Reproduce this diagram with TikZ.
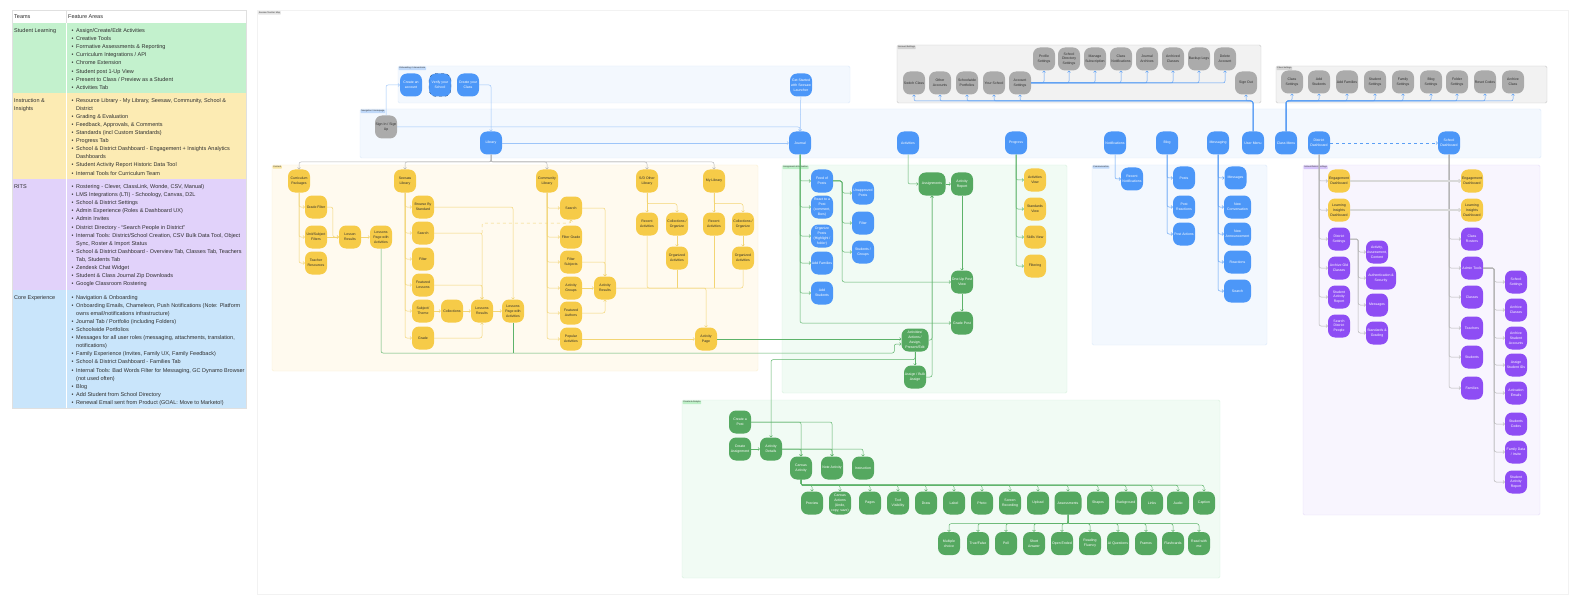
\documentclass[tikz,border=0pt]{standalone}
\usepackage{fontspec}
\setmainfont{Liberation Sans}
\usetikzlibrary{arrows.meta,calc}

\definecolor{nblue}{HTML}{4C97F8}
\definecolor{ngreen}{HTML}{55A860}
\definecolor{nyellow}{HTML}{F6CB48}
\definecolor{npurple}{HTML}{8E4DF4}
\definecolor{ngray}{HTML}{ABABAB}
\definecolor{txt}{HTML}{2E2E2E}
\definecolor{lblue}{HTML}{5B9FF5}
\definecolor{lgreen}{HTML}{5DB36A}
\definecolor{lyellow}{HTML}{F3D574}
\definecolor{lgray}{HTML}{B5B5B5}
\definecolor{rowgreen}{HTML}{C3F1CD}
\definecolor{rowyellow}{HTML}{FCEBB3}
\definecolor{rowpurple}{HTML}{E1D2FA}
\definecolor{rowblue}{HTML}{C9E5FB}
\definecolor{fblue}{HTML}{F3F8FE}
\definecolor{fblueb}{HTML}{DCE9FA}
\definecolor{fgray}{HTML}{F2F2F2}
\definecolor{fgrayb}{HTML}{C8C8C8}
\definecolor{fyellow}{HTML}{FFFAEF}
\definecolor{fyellowb}{HTML}{FBF0D2}
\definecolor{fgreen}{HTML}{F1FBF4}
\definecolor{fgreenb}{HTML}{D7F1DE}
\definecolor{fpurple}{HTML}{F8F5FE}
\definecolor{fpurpleb}{HTML}{E6DDF8}
\definecolor{labblue}{HTML}{BFD8F8}
\definecolor{labgray}{HTML}{D2D2D2}
\definecolor{labyellow}{HTML}{F6E3A0}
\definecolor{labgreen}{HTML}{BCEFC6}
\definecolor{labpurple}{HTML}{D6C4FA}

\newcommand{\tbul}{\makebox[4.5pt][l]{\textbullet}}
\newcommand{\tind}{\hspace*{4.5pt}}

\tikzset{
  card/.style={rounded corners=7pt, minimum width=22pt, minimum height=23pt, inner sep=0.5pt, align=center, font=\fontsize{3.5}{4.9}\selectfont},
  bnode/.style={card, fill=nblue, text=white},
  gnode/.style={card, fill=ngreen, text=white},
  ynode/.style={card, fill=nyellow, text=txt},
  pnode/.style={card, fill=npurple, text=white},
  anode/.style={card, fill=ngray, text=txt},
  wide/.style={minimum width=27pt},
  conn/.style={line width=0.5pt, rounded corners=2pt, -{Straight Barb[length=1.4pt,width=2.8pt]}},
  bline/.style={conn, draw=lblue},
  gline/.style={conn, draw=lgreen},
  yline/.style={conn, draw=lyellow},
  grline/.style={conn, draw=lgray},
  area/.style={line width=0.4pt, rounded corners=1.5pt},
  flabel/.style={anchor=north west, inner sep=0.7pt, rounded corners=0.5pt, font=\fontsize{2.2}{2.5}\selectfont, text=black!80},
  tabtext/.style={anchor=north west, inner sep=0pt, align=left, text=txt, font=\fontsize{5.5}{8.1}\selectfont},
}

\begin{document}
\begin{tikzpicture}[x=1pt,y=-1pt]
\useasboundingbox (0,0) rectangle (1570,596);

% table
\fill[white] (12,10) rectangle (246,23.3);
\fill[rowgreen] (12,23.3) rectangle (246,92.7);
\fill[rowyellow] (12,92.7) rectangle (246,179.3);
\fill[rowpurple] (12,179.3) rectangle (246,289.7);
\fill[rowblue] (12,289.7) rectangle (246,408);
\draw[white, line width=0.6pt] (66,23.3) -- (66,408);
\draw[black!12, line width=0.4pt] (12,10) rectangle (246,408);
\draw[black!12, line width=0.4pt] (66,10) -- (66,23.3);

\node[tabtext] (thteam) at (14,12.7) {\strut Teams};
\node[tabtext] (tharea) at (68,12.7) {\strut Feature Areas};

\node[tabtext] (tsl) at (14,26.7) {\strut Student Learning};
\node[tabtext] (fsl) at (71.5,26.7) {\strut\tbul Assign/Create/Edit Activities\\
\tbul Creative Tools\\
\tbul Formative Assessments \& Reporting\\
\tbul Curriculum Integrations / API\\
\tbul Chrome Extension\\
\tbul Student post 1-Up View\\
\tbul Present to Class / Preview as a Student\\
\tbul Activities Tab};

\node[tabtext] (tii) at (14,96.3) {\strut Instruction \&\\Insights};
\node[tabtext] (fii) at (71.5,96.3) {\strut\tbul Resource Library - My Library, Seesaw, Community, School \&\\
\tind District\\
\tbul Grading \& Evaluation\\
\tbul Feedback, Approvals, \& Comments\\
\tbul Standards (incl Custom Standards)\\
\tbul Progress Tab\\
\tbul School \& District Dashboard - Engagement + Insights Analytics\\
\tind Dashboards\\
\tbul Student Activity Report Historic Data Tool\\
\tbul Internal Tools for Curriculum Team};

\node[tabtext] (trits) at (14,182.7) {\strut RITS};
\node[tabtext] (frits) at (71.5,182.7) {\strut\tbul Rostering - Clever, ClassLink, Wonde, CSV, Manual)\\
\tbul LMS Integrations (LTI) - Schoology, Canvas, D2L\\
\tbul School \& District Settings\\
\tbul Admin Experience (Roles \& Dashboard UX)\\
\tbul Admin Invites\\
\tbul District Directory - ``Search People in District''\\
\tbul Internal Tools: District/School Creation, CSV Bulk Data Tool, Object\\
\tind Sync, Roster \& Import Status\\
\tbul School \& District Dashboard - Overview Tab, Classes Tab, Teachers\\
\tind Tab, Students Tab\\
\tbul Zendesk Chat Widget\\
\tbul Student \& Class Journal Zip Downloads\\
\tbul Google Classroom Rostering};

\node[tabtext] (tcore) at (14,293.3) {\strut Core Experience};
\node[tabtext] (fcore) at (71.5,293.3) {\strut\tbul Navigation \& Onboarding\\
\tbul Onboarding Emails, Chameleon, Push Notifications (Note: Platform\\
\tind owns email/notifications infrastructure)\\
\tbul Journal Tab / Portfolio (including Folders)\\
\tbul Schoolwide Portfolios\\
\tbul Messages for all user roles (messaging, attachments, translation,\\
\tind notifications)\\
\tbul Family Experience (Invites, Family UX, Family Feedback)\\
\tbul School \& District Dashboard - Families Tab\\
\tbul Internal Tools: Bad Words Filter for Messaging, GC Dynamo Browser\\
\tind (not used often)\\
\tbul Blog\\
\tbul Add Student from School Directory\\
\tbul Renewal Email sent from Product (GOAL: Move to Marketo!)};

% frames
\draw[draw=black!5, line width=0.4pt] (257,10) rectangle (1568,594);
\node[flabel, fill=black!10] (lmap) at (258,11) {Seesaw Teacher Map};
\draw[area, fill=fblue, draw=fblueb] (398,66) rectangle (850,103);
\node[flabel, fill=labblue] (lonb) at (398.5,66.5) {Onboarding / Interventions};
\draw[area, fill=fblue, draw=fblueb] (360,109) rectangle (1541,158);
\node[flabel, fill=labblue] (lnav) at (360.5,109.5) {Navigation / Homepage};
\draw[area, fill=fgray, draw=fgrayb] (897,45) rectangle (1261,103);
\node[flabel, fill=labgray] (lacc) at (897.5,45.5) {Account Settings};
\draw[area, fill=fgray, draw=fgrayb] (1276,66) rectangle (1547,103);
\node[flabel, fill=labgray] (lcls) at (1276.5,66.5) {Class Settings};
\draw[area, fill=fyellow, draw=fyellowb] (272,165) rectangle (758,371);
\node[flabel, fill=labyellow] (lcont) at (272.5,165.5) {Content};
\draw[area, fill=fgreen, draw=fgreenb] (782,165) rectangle (1067,393);
\node[flabel, fill=labgreen] (lasg) at (782.5,165.5) {Assignment \& Evaluation};
\draw[area, fill=fblue, draw=fblueb] (1092,165) rectangle (1267,345);
\node[flabel, fill=labblue] (lcom) at (1092.5,165.5) {Communication};
\draw[area, fill=fpurple, draw=fpurpleb] (1303,165) rectangle (1540,515);
\node[flabel, fill=labpurple] (lsds) at (1303.5,165.5) {School/District Settings};
\draw[area, fill=fgreen, draw=fgreenb] (682,400) rectangle (1220,578);
\node[flabel, fill=labgreen] (lcra) at (682.5,400.5) {Create \& Analyze};

% navigation
\node[anode] (signin) at (386,127) {Sign In / Sign\\Up};
\node[bnode] (library) at (491,143) {Library};
\node[bnode] (journal) at (800,143) {Journal};
\node[bnode] (activities) at (908,143) {Activities};
\node[bnode] (progress) at (1016,143) {Progress};
\node[bnode] (notif) at (1115,143) {Notifications};
\node[bnode] (blog) at (1167,143) {Blog};
\node[bnode] (messaging) at (1218,143) {Messaging};
\node[bnode] (usermenu) at (1253,143) {User Menu};
\node[bnode] (classmenu) at (1286,143) {Class Menu};
\node[bnode] (distdash) at (1319,143) {District\\Dashboard};
\node[bnode] (schooldash) at (1449,143) {School\\Dashboard};

% onboarding
\node[bnode] (newacc) at (411,85) {Create an\\account};
\node[bnode, draw=nblue!55!black, dashed, line width=0.3pt] (verify) at (440,85) {Verify your\\School};
\node[bnode] (newclass) at (468,85) {Create your\\Class};
\node[bnode] (launcher) at (801,85) {Get Started\\with Seesaw\\Launcher};

% account settings
\foreach \x/\n/\t in {914/switchcls/{Switch Class}, 940/othacc/{Other\\Accounts}, 967/portf/{Schoolwide\\Portfolios},
  994/yschool/{Your School}, 1020/accset/{Account\\Settings}, 1246/signout/{Sign Out}}
  \node[anode] (\n) at (\x,83) {\t};
\foreach \x/\n/\t in {1044/profile/{Profile\\Settings}, 1069/dirset/{School\\Directory\\Settings}, 1095/subscr/{Manage\\Subscription},
  1121/clsnotif/{Class\\Notifications}, 1147/jarch/{Journal\\Archives}, 1173/archcls/{Archived\\Classes},
  1199/backup/{Backup Logs}, 1225/delacc/{Delete\\Account}}
  \node[anode] (\n) at (\x,59) {\t};

% class settings
\foreach \x/\n/\t in {1292/clsset/{Class\\Settings}, 1319/addstu/{Add\\Students}, 1347/addfam/{Add Families},
  1375/stuset/{Student\\Settings}, 1403/famset/{Family\\Settings}, 1431/blogset/{Blog\\Settings},
  1457/foldset/{Folder\\Settings}, 1485/resetc/{Reset Codes}, 1513/archive/{Archive\\Class}}
  \node[anode] (\n) at (\x,82) {\t};

% content
\node[ynode] (curric) at (299,181) {Curriculum\\Packages};
\node[ynode] (sslib) at (405,181) {Seesaw\\Library};
\node[ynode] (commlib) at (547,181) {Community\\Library};
\node[ynode] (sdlib) at (647,181) {S/D Other\\Library};
\node[ynode] (mylib) at (714,181) {My Library};
\node[ynode] (gradefil) at (316,207) {Grade Filter};
\node[ynode] (unitfil) at (316,237) {Unit/Subject\\Filters};
\node[ynode] (teachres) at (316,263) {Teacher\\Resources};
\node[ynode] (lessres) at (350,237) {Lesson\\Results};
\node[ynode] (lesspage) at (381,237) {Lessons\\Page with\\Activities};
\node[ynode] (browse) at (423,207) {Browse By\\Standard};
\node[ynode] (ssearch) at (423,233) {Search};
\node[ynode] (sfilter) at (423,259) {Filter};
\node[ynode] (featless) at (423,285) {Featured\\Lessons};
\node[ynode] (subject) at (423,311) {Subject/\\Theme};
\node[ynode] (sgrade) at (423,338) {Grade};
\node[ynode] (collect) at (452,311) {Collections};
\node[ynode] (lessresb) at (482,311) {Lessons\\Results};
\node[ynode] (lesspageb) at (513,311) {Lessons\\Page with\\Activities};
\node[ynode] (csearch) at (571,208) {Search};
\node[ynode] (fgrade) at (571,237) {Filter Grade};
\node[ynode] (fsubj) at (571,262) {Filter\\Subjects};
\node[ynode] (agroups) at (571,288) {Activity\\Groups};
\node[ynode] (fauth) at (571,313) {Featured\\Authors};
\node[ynode] (popular) at (571,339) {Popular\\Activities};
\node[ynode] (actres) at (605,288) {Activity\\Results};
\node[ynode] (actpage) at (706,339) {Activity\\Page};
\node[ynode] (sdrecent) at (647,224) {Recent\\Activities};
\node[ynode] (sdcoll) at (677,224) {Collections /\\Organize};
\node[ynode] (sdorg) at (677,258) {Organized\\Activities};
\node[ynode] (myrecent) at (714,224) {Recent\\Activities};
\node[ynode] (mycoll) at (743,224) {Collections /\\Organize};
\node[ynode] (myorg) at (743,258) {Organized\\Activities};

% assignment and evaluation
\node[bnode] (feed) at (822,181) {Feed of\\Posts};
\node[bnode] (react) at (822,207) {React to a\\Post\\(comment,\\likes)};
\node[bnode] (organize) at (822,236) {Organize\\Posts\\(Highlight /\\folder)};
\node[bnode] (jaddfam) at (822,263) {Add Families};
\node[bnode] (jaddstu) at (822,293) {Add\\Students};
\node[bnode] (unappr) at (863,193) {Unapproved\\Posts};
\node[bnode] (afilter) at (863,223) {Filter};
\node[bnode] (stugroups) at (863,252) {Students /\\Groups};
\node[gnode, wide] (assign) at (932,184) {Assignments};
\node[gnode] (actreport) at (962,184) {Activity\\Report};
\node[gnode] (oneup) at (962,282) {One-Up Post\\View};
\node[gnode] (gradepost) at (962,323) {Grade Post};
\node[gnode, wide] (actions) at (915,340) {Activities/\\Actions /\\Assign,\\Present/Edit};
\node[gnode] (bulk) at (915,377) {Assign / Bulk\\Assign};
\node[ynode] (actview) at (1035,180) {Activities\\View};
\node[ynode] (stdview) at (1035,209) {Standards\\View};
\node[ynode] (skills) at (1035,237) {Skills View};
\node[ynode] (filtering) at (1035,266) {Filtering};

% communication
\node[bnode] (recnotif) at (1132,179) {Recent\\Notifications};
\node[bnode] (posts) at (1184,178) {Posts};
\node[bnode] (postreact) at (1184,207) {Post\\Reactions};
\node[bnode] (postact) at (1184,234) {Post Actions};
\node[bnode] (messages) at (1235.5,178) {Messages};
\node[bnode, wide] (newconv) at (1237.5,207) {New\\Conversation};
\node[bnode, wide] (newann) at (1237.5,234) {New\\Announcement};
\node[bnode, wide] (reactions) at (1237.5,262) {Reactions};
\node[bnode, wide] (msearch) at (1237.5,291) {Search};

% school / district
\node[ynode] (engd) at (1339,181) {Engagement\\Dashboard};
\node[ynode] (learnd) at (1339,210) {Learning\\Insights\\Dashboard};
\node[pnode] (dsettings) at (1339,239) {District\\Settings};
\node[pnode] (archold) at (1339,268) {Archive Old\\Classes};
\node[pnode] (dreport) at (1339,297) {Student\\Activity\\Report};
\node[pnode] (dpeople) at (1339,326) {Search\\District\\People};
\node[pnode] (actassess) at (1377,252) {Activity,\\Assessment,\\Content};
\node[pnode, minimum width=30pt] (auth) at (1381,278) {Authentication \&\\Security};
\node[pnode] (dmessages) at (1377,305) {Messages};
\node[pnode] (stdgrad) at (1377,333) {Standards \&\\Grading};
\node[ynode] (enges) at (1472,181) {Engagement\\Dashboard};
\node[ynode] (learns) at (1472,210) {Learning\\Insights\\Dashboard};
\node[pnode] (rosters) at (1472,239) {Class\\Rosters};
\node[pnode] (admin) at (1472,268) {Admin Tools};
\node[pnode] (classes) at (1472,297) {Classes};
\node[pnode] (teachers) at (1472,328) {Teachers};
\node[pnode] (students) at (1472,357) {Students};
\node[pnode] (families) at (1472,388) {Families};
\foreach \y/\n/\t in {282/schset/{School\\Settings}, 310/archcls2/{Archive\\Classes}, 338/archstu/{Archive\\Student\\Accounts},
  365/assignid/{Assign\\Student IDs}, 393/activation/{Activation\\Emails}, 424/stucodes/{Students\\Codes},
  452/famdata/{Family Data\\/ Invite}, 482/sreport/{Student\\Activity\\Report}}
  \node[pnode] (\n) at (1516,\y) {\t};

% create and analyze
\node[gnode] (newpost) at (740,422) {Create a\\Post};
\node[gnode] (newasg) at (740,449) {Create\\Assignment};
\node[gnode] (actdet) at (771,449) {Activity\\Details};
\node[gnode] (canvas) at (801,468) {Canvas\\Activity};
\node[gnode] (noteact) at (832,468) {Note Activity};
\node[gnode] (instr) at (863,468) {Instruction};
\foreach \x/\n/\t in {812/preview/{Preview}, 840/cactions/{Canvas\\Actions\\(Undo,\\copy, save)}, 870/pages/{Pages},
  898/toolvis/{Tool\\Visibility}, 926/cdraw/{Draw}, 954/clabel/{Label}, 982/photo/{Photo},
  1010/screen/{Screen\\Recording}, 1038/upload/{Upload}, 1098/shapes/{Shapes}, 1126/bground/{Background},
  1152/links/{Links}, 1178/audio/{Audio}, 1204/caption/{Caption}}
  \node[gnode] (\n) at (\x,503) {\t};
\node[gnode, wide] (assess) at (1068,503) {Assessments};
\foreach \x/\n/\t in {949/mchoice/{Multiple\\choice}, 978/tfalse/{True/False}, 1006/poll/{Poll}, 1034/short/{Short\\Answer},
  1062/openend/{Open Ended}, 1090/fluency/{Reading\\Fluency}, 1118/aiq/{AI Questions}, 1146/frames/{Frames},
  1173/flash/{Flashcards}, 1199/readme/{Read with\\me}}
  \node[gnode] (\n) at (\x,543.5) {\t};

% connectors: onboarding and navigation
\draw[bline, draw=lblue!60] (signin.north) |- (newacc.west);
\draw[bline, draw=lblue!60] (newclass.east) -| (library.north);
\draw[bline, draw=lblue!60] (signin.east) -| (journal.north);
\draw[bline, draw=lblue!60] (launcher) -- (journal);
\draw[bline, draw=lblue!60] (library) -- (journal);
\draw[bline, dashed] (distdash) -- (schooldash);

% connectors: menus
\coordinate (umbus) at (usermenu.north |- 0,101);
\foreach \n in {switchcls,othacc,portf,yschool,accset,signout}
  \draw[bline] (usermenu.north) -- (umbus) -| (\n.south);
\foreach \n in {profile,dirset,subscr,clsnotif,jarch,archcls,backup,delacc}
  \draw[bline] (accset.east) -| (\n.south);
\coordinate (cmbus) at (classmenu.north |- 0,101);
\foreach \n in {clsset,addstu,addfam,stuset,famset,blogset,foldset,resetc,archive}
  \draw[bline] (classmenu.north) -- (cmbus) -| (\n.south);

% connectors: content
\coordinate (libbus) at (library.south |- 0,162);
\foreach \n in {curric,sslib,commlib,sdlib,mylib}
  \draw[grline] (library.south) -- (libbus) -| (\n.north);
\foreach \n in {gradefil,unitfil,teachres}
  \draw[yline] (curric.south) |- (\n.west);
\draw[yline] (gradefil.east) -| ([xshift=-6pt]lessres.west) -- (lessres.west);
\draw[yline] (unitfil) -- (lessres);
\draw[yline] (lessres) -- (lesspage);
\foreach \n in {browse,ssearch,sfilter,featless,subject,sgrade}
  \draw[yline] (sslib.south) |- (\n.west);
\draw[yline] (browse.east) -| (lesspageb.north);
\draw[yline] (ssearch.east) -| (lessresb.north);
\draw[yline] (featless.east) -| (lessresb.north);
\draw[yline] (sgrade.east) -| (lessresb.south);
\draw[yline] (subject) -- (collect);
\draw[yline] (collect) -- (lessresb);
\draw[yline] (lessresb) -- (lesspageb);
\draw[yline, dashed] (lessresb.north |- ssearch.east) -- ++(0,-10) -| (csearch.south);
\foreach \n in {csearch,fgrade,fsubj,agroups,fauth,popular}
  \draw[yline] (commlib.south) |- (\n.west);
\draw[yline] (csearch.east) -| (actres.north);
\draw[yline] (fsubj.east) -| (actres.north);
\draw[yline] (agroups) -- (actres);
\draw[yline] (fauth.east) -| (actres.south);
\draw[yline] (actres.east) -| (actpage.north);
\draw[yline] (popular) -- (actpage);
\draw[yline] (sdlib) -- (sdrecent);
\draw[yline] (sdlib.south) -- ++(0,11) -| (sdcoll.north);
\draw[yline] (sdcoll) -- (sdorg);
\draw[yline] (mylib) -- (myrecent);
\draw[yline] (mylib.south) -- ++(0,11) -| (mycoll.north);
\draw[yline] (mycoll) -- (myorg);
\draw[yline, -] (sdrecent.south) |- (myorg.south |- actres.east) -- (myorg.south);
\draw[yline, -] (sdorg.south) -- (sdorg.south |- actres.east);
\draw[yline, -] (myrecent.south) -- (myrecent.south |- actres.east);

% connectors: content to assignment
\draw[gline] (actpage.east) -- (actpage.east -| actions.west);
\draw[gline] (lesspage.south) |- ([xshift=-7pt,yshift=-13pt]actions.west) |- ([yshift=-4pt]actions.west);
\draw[gline, -] (lesspageb.south) -- (lesspageb.south |- 0,353);

% connectors: assignment and evaluation
\foreach \n in {feed,react,organize,jaddfam,jaddstu,gradepost}
  \draw[gline] (journal.south) |- (\n.west);
\coordinate (feedx) at ([xshift=9pt]feed.east);
\foreach \n in {unappr,afilter,stugroups,oneup}
  \draw[gline] (feed.east) -- (feedx) |- (\n.west);
\draw[gline] (activities.south) |- (assign.west);
\draw[gline] (assign) -- (actreport);
\draw[gline] (actreport) -- (oneup);
\draw[gline] (oneup) -- (gradepost);
\draw[gline] (actions.east) -| (assign.south);
\draw[gline] (bulk.east) -| (assign.south);
\draw[gline] (actions) -- (bulk);
\draw[gline] (actions.south) -- ++(0,8) -| (actdet.north);
\foreach \n in {actview,stdview,skills,filtering}
  \draw[gline] (progress.south) |- (\n.west);

% connectors: communication
\draw[bline] (notif.south) |- (recnotif.west);
\foreach \n in {posts,postreact,postact}
  \draw[bline] (blog.south) |- (\n.west);
\foreach \n in {messages,newconv,newann,reactions,msearch}
  \draw[bline] (messaging.south) |- (\n.west);

% connectors: school / district
\foreach \n in {engd,learnd,dsettings,archold,dreport,dpeople}
  \draw[grline] (distdash.south) |- (\n.west);
\coordinate (dsx) at ([xshift=8pt]dsettings.east);
\foreach \n in {actassess,auth,dmessages,stdgrad}
  \draw[grline] (dsettings.east) -- (dsx) |- (\n.west);
\foreach \n in {enges,learns,rosters,admin,classes,teachers,students,families}
  \draw[grline] (schooldash.south) |- (\n.west);
\coordinate (adx) at ([xshift=11pt]admin.east);
\foreach \n in {schset,archcls2,archstu,assignid,activation,stucodes,famdata,sreport}
  \draw[grline] (admin.east) -- (adx) |- (\n.west);
\draw[grline, draw=black!15, line width=1.3pt] (engd) -- (enges);
\draw[grline, draw=black!15, line width=1.3pt] (learnd) -- (learns);

% connectors: create and analyze
\draw[gline] (newpost.east) -| (canvas.north);
\draw[gline] (newpost.east) -| (noteact.north);
\draw[gline] (newasg) -- (actdet);
\foreach \n in {canvas,noteact,instr}
  \draw[gline] (actdet.east) -| (\n.north);
\coordinate (cbus) at ([yshift=-5.5pt]canvas.south);
\foreach \n in {preview,cactions,pages,toolvis,cdraw,clabel,photo,screen,upload,assess,shapes,bground,links,audio,caption}
  \draw[gline] (canvas.south) -- (cbus) -| (\n.north);
\coordinate (abus) at ([yshift=-9pt]assess.south);
\foreach \n in {mchoice,tfalse,poll,short,openend,fluency,aiq,frames,flash,readme}
  \draw[gline] (assess.south) -- (abus) -| (\n.north);
\end{tikzpicture}
\end{document}
